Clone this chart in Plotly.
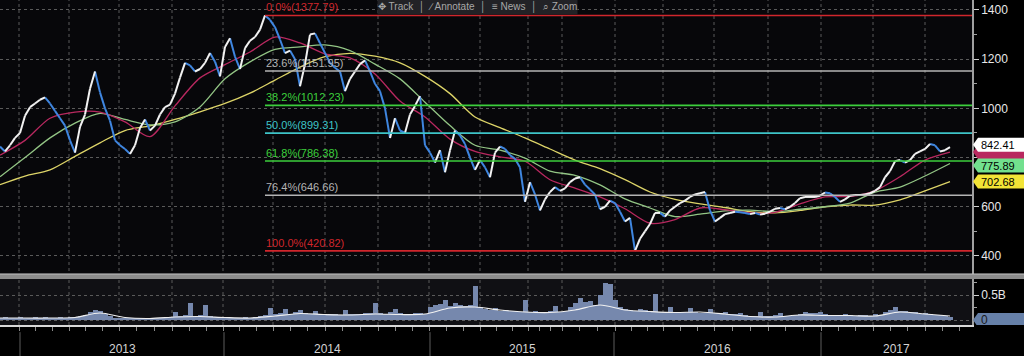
import plotly.graph_objects as go

# ---------------- data ----------------
# closing price, one value per bar (bars are evenly spaced trading periods)
price = [845, 825, 850, 880, 900, 970, 1005, 1020, 1035, 1045,
         1020, 990, 960, 930, 870, 820, 925, 975, 1080, 1150,
         1065, 1000, 950, 870, 850, 835, 815, 850, 920, 955,
         910, 930, 975, 1005, 1015, 1060, 1125, 1185, 1175, 1150,
         1160, 1185, 1225, 1190, 1130, 1250, 1285, 1210, 1160, 1245,
         1275, 1290, 1320, 1377.79, 1360, 1330, 1280, 1225, 1235, 1200,
         1090, 1180, 1300, 1305, 1265, 1225, 1185, 1165, 1150, 1070,
         1120, 1150, 1180, 1195, 1150, 1100, 1070, 1000, 880, 960,
         910, 900, 975, 1010, 1050, 850, 820, 780, 830, 740,
         830, 910, 890, 855, 800, 750, 790, 760, 720, 820,
         845, 835, 810, 795, 760, 620, 700, 650, 585, 630,
         660, 680, 665, 675, 700, 715, 720, 690, 670, 650,
         590, 600, 625, 615, 580, 540, 555, 420.82, 470, 500,
         530, 575, 575, 560, 585, 600, 615, 625, 640, 650,
         655, 660, 585, 540, 555, 570, 575, 580, 578, 575,
         570, 575, 568, 572, 580, 592, 595, 590, 600, 615,
         635, 640, 640, 640, 645, 658, 655, 640, 620, 630,
         645, 648, 648, 650, 655, 665, 680, 720, 745, 785,
         790, 780, 790, 815, 825, 835, 855, 850, 825, 830,
         842.41]

# moving averages, one value every MA_STEP bars
MA_STEP = 5
ma_short = [810, 870, 960, 985, 985, 945, 885, 1010, 1124, 1178,
            1229, 1290, 1266, 1222, 1205, 1140, 1030, 965, 875, 825,
            803, 785, 710, 676, 640, 592, 533, 548, 595, 588,
            575, 577, 612, 640, 642, 665, 722, 790, 822.50]
ma_mid = [722, 800, 880, 940, 980, 955, 933, 945, 1006, 1120,
          1189, 1240, 1250, 1258, 1235, 1180, 1120, 1025, 930, 850,
          830, 798, 745, 728, 689, 632, 595, 560, 570, 583,
          586, 580, 590, 600, 615, 660, 680, 725, 775.89]
ma_long = [690, 725, 750, 805, 860, 910, 929, 955, 986, 1020,
           1062, 1115, 1168, 1210, 1224, 1212, 1185, 1130, 1060, 965,
           922, 880, 835, 790, 755, 710, 660, 630, 612, 597,
           580, 575, 585, 600, 607, 607, 628, 665, 702.68]

# volume in billions, one value per bar
volume = [0.04, 0.05, 0.04, 0.04, 0.05, 0.04, 0.04, 0.05, 0.04, 0.05, 0.04, 0.04, 0.05, 0.04, 0.05, 0.06, 0.07,
          0.10, 0.15, 0.20, 0.18, 0.12, 0.08,
          0.04, 0.03, 0.03, 0.04, 0.03, 0.03, 0.04, 0.03, 0.04, 0.03, 0.04,
          0.06, 0.15, 0.08, 0.10, 0.33, 0.08, 0.09, 0.30, 0.08, 0.06,
          0.04, 0.04, 0.03, 0.04, 0.04, 0.05, 0.04, 0.05,
          0.08, 0.10, 0.23, 0.12, 0.14, 0.22, 0.12, 0.15, 0.20, 0.13, 0.12, 0.18, 0.12, 0.10, 0.12, 0.11, 0.10, 0.20, 0.12, 0.11, 0.12,
          0.13, 0.14, 0.33, 0.13, 0.12, 0.15, 0.22, 0.13, 0.12, 0.11, 0.13, 0.14, 0.12,
          0.25, 0.30, 0.32, 0.40, 0.28, 0.33, 0.30, 0.27,
          0.30, 0.68, 0.25, 0.22, 0.20, 0.24, 0.18, 0.20, 0.17, 0.18, 0.16,
          0.40, 0.16, 0.18, 0.15, 0.16, 0.17, 0.28, 0.15, 0.17,
          0.25, 0.33, 0.43, 0.35, 0.38, 0.30,
          0.50, 0.75, 0.72, 0.40,
          0.25, 0.22, 0.20, 0.18, 0.22, 0.20, 0.18, 0.52,
          0.16, 0.15, 0.25, 0.14, 0.15, 0.16, 0.24, 0.15, 0.14, 0.13, 0.22, 0.14, 0.13, 0.15, 0.12, 0.11, 0.13, 0.10,
          0.08, 0.07, 0.15, 0.08, 0.07, 0.09, 0.14, 0.08, 0.07, 0.09,
          0.12, 0.15, 0.14, 0.13, 0.16, 0.12,
          0.09, 0.08, 0.10, 0.12, 0.09, 0.08, 0.10, 0.09, 0.08, 0.11, 0.10,
          0.15, 0.20, 0.25, 0.18, 0.17, 0.15, 0.16,
          0.12, 0.14, 0.11, 0.10, 0.09, 0.07, 0.05]
vol_ma = [0.04, 0.04, 0.04, 0.05, 0.14, 0.05, 0.03, 0.06, 0.07, 0.05,
          0.04, 0.08, 0.13, 0.11, 0.10, 0.12, 0.11, 0.12, 0.24, 0.26,
          0.20, 0.16, 0.15, 0.20, 0.30, 0.20, 0.17, 0.15, 0.16, 0.12,
          0.07, 0.06, 0.10, 0.09, 0.09, 0.08, 0.16, 0.12, 0.08]

year_labels = ["2013", "2014", "2015", "2016", "2017"]
year_starts = [4.0, 44.8, 86.0, 122.8, 164.2]          # bar index where each year begins
axis_end = 194.4                                       # last visible bar position
quarter_starts = [3.8, 13.8, 23.8, 34.4, 44.6, 54.6, 65.0, 75.6, 85.8, 96.0,
                  105.6, 112.4, 123.0, 132.6, 142.8, 153.6, 164.2, 174.6, 185.0]

fib_pct = ["0.0%", "23.6%", "38.2%", "50.0%", "61.8%", "76.4%", "100.0%"]
fib_val = [1377.79, 1151.95, 1012.23, 899.31, 786.38, 646.66, 420.82]
fib_col = ["#d0262c", "#b4b4b4", "#3ccf3c", "#3ec4c8", "#3ccf3c", "#b4b4b4", "#d0262c"]
high_bar = 53

price_ticks = [400, 600, 800, 1000, 1200, 1400]
price_ticktext = ["400", "600", "", "1000", "1200", "1400"]   # 800 is hidden under the value tags
price_minor = [500, 700, 900, 1100, 1300]

# ---------------- styles ----------------
BG = "#07070a"
GRID = "#5a5a5a"
FONT = "Liberation Sans, Arial, sans-serif"
C_UP = "#f2f2f2"
C_DN = "#3f86e0"
C_PINK = "#b8285f"
C_GREEN = "#93c585"
C_YELLOW = "#ddd468"
C_VOL = "#7688ad"

Y0, Y1 = 326.8, 1440.6
PRICE_BOT = 0.157
VOL_TOP = 0.1415
PLOT_H = 325.0
UNITS_PER_PX = (Y1 - Y0) / (PLOT_H * (1 - PRICE_BOT))

fig = go.Figure()

# moving averages
ma_x = [i * MA_STEP for i in range(len(ma_short))]
for ser, col in [(ma_long, C_YELLOW), (ma_mid, C_GREEN), (ma_short, C_PINK)]:
    fig.add_trace(go.Scatter(x=ma_x, y=ser, mode="lines", line=dict(color=col, width=1.3, shape="spline", smoothing=0.8),
                             hoverinfo="skip", xaxis="x", yaxis="y"))

# price as up (white) / down (blue) segments
ux, uy, dx, dy = [], [], [], []
for i in range(1, len(price)):
    if price[i] >= price[i - 1]:
        ux += [i - 1, i, None]; uy += [price[i - 1], price[i], None]
    else:
        dx += [i - 1, i, None]; dy += [price[i - 1], price[i], None]
fig.add_trace(go.Scatter(x=dx, y=dy, mode="lines", line=dict(color=C_DN, width=2.0), xaxis="x", yaxis="y"))
fig.add_trace(go.Scatter(x=ux, y=uy, mode="lines", line=dict(color=C_UP, width=2.0), xaxis="x", yaxis="y"))

# volume
fig.add_trace(go.Bar(x=list(range(len(volume))), y=volume, marker=dict(color=C_VOL, line=dict(width=0)),
                     width=1.0, xaxis="x", yaxis="y2"))
fig.add_trace(go.Scatter(x=[i * MA_STEP for i in range(len(vol_ma))], y=vol_ma, mode="lines",
                         line=dict(color="#f0f0f0", width=1.2, shape="spline", smoothing=0.8), xaxis="x", yaxis="y2"))

shapes = []
annotations = []

# volume panel background
shapes.append(dict(type="rect", xref="paper", yref="paper", x0=0, x1=1, y0=0, y1=VOL_TOP,
                   fillcolor="#101014", line=dict(width=0), layer="below"))
# vertical dotted grid
for q in quarter_starts:
    shapes.append(dict(type="line", xref="x", yref="paper", x0=q, x1=q, y0=0, y1=1,
                       line=dict(color=GRID, width=1, dash="dot"), layer="below"))
# fib lines + labels
for p, v, c in zip(fib_pct, fib_val, fib_col):
    shapes.append(dict(type="line", xref="x", yref="y", x0=high_bar, x1=axis_end, y0=v, y1=v,
                       line=dict(color=c, width=1.6), layer="above"))
    annotations.append(dict(x=high_bar, y=v, xref="x", yref="y", xanchor="left", yanchor="bottom",
                            text=f"{p}({v:.2f})", showarrow=False, font=dict(color=c, size=11, family=FONT),
                            borderpad=0, yshift=1))
# panel separator band
shapes.append(dict(type="rect", xref="paper", yref="paper", x0=0, x1=1.06, y0=VOL_TOP, y1=PRICE_BOT,
                   fillcolor="#8c8c8c", line=dict(width=0), layer="above"))
shapes.append(dict(type="line", xref="paper", yref="paper", x0=0, x1=1.06, y0=PRICE_BOT, y1=PRICE_BOT,
                   line=dict(color="#c4c4c4", width=1), layer="above"))
# year separators and labels below the axis
for ys in year_starts:
    shapes.append(dict(type="line", xref="x", yref="paper", x0=ys, x1=ys, y0=-0.022, y1=-0.1,
                       line=dict(color="#5c5c5c", width=1)))
bounds = year_starts + [axis_end]
for k, lab in enumerate(year_labels):
    annotations.append(dict(x=(bounds[k] + bounds[k + 1]) / 2, y=-0.074, xref="x", yref="paper",
                            text=lab, showarrow=False, yanchor="middle",
                            font=dict(color="#d4d4d4", size=12, family=FONT)))

# right-hand value tags (pointed left edge); offset nudges a tag up (+) / down (-) in pixels
PX = 1.0 / 972.0
def tag_shape(v, color, half_px=7.0):
    h = half_px * UNITS_PER_PX
    x0, xt, x1 = 1 + 1 * PX, 1 + 6 * PX, 1 + 60 * PX
    path = f"M {x0} {v} L {xt} {v + h} L {x1} {v + h} L {x1} {v - h} L {xt} {v - h} Z"
    return dict(type="path", xref="paper", yref="y", path=path, fillcolor=color, line=dict(width=0), layer="above")

shapes.append(tag_shape(ma_short[-1], C_PINK))   # pink tag sits behind the price tag, its text is hidden
tags = [(ma_long[-1], "#f2e436", 0), (ma_mid[-1], "#72e08e", -2.0), (price[-1], "#ffffff", 2.5)]
for v, bg, off in tags:
    vc = v + off * UNITS_PER_PX
    shapes.append(tag_shape(vc, bg))
    annotations.append(dict(x=1, y=vc, xref="paper", yref="y", xanchor="left", yanchor="middle", xshift=8,
                            text=f"{v:.2f}", showarrow=False, borderpad=0,
                            font=dict(color="#000000", size=11, family=FONT)))
# volume "0" tag
h2 = 7.0 * (0.82 + 0.1) / (PLOT_H * VOL_TOP)
shapes.append(dict(type="path", xref="paper", yref="y2",
                   path=f"M {1 + 1 * PX} 0 L {1 + 6 * PX} {h2} L {1 + 60 * PX} {h2} L {1 + 60 * PX} {-h2} L {1 + 6 * PX} {-h2} Z",
                   fillcolor="#6680a8", line=dict(width=0), layer="above"))
annotations.append(dict(x=1, y=0, xref="paper", yref="y2", xanchor="left", yanchor="middle", xshift=8,
                        text="0", showarrow=False, borderpad=0,
                        font=dict(color="#1a1a1a", size=12, family=FONT)))

# toolbar at the very top
annotations.append(dict(x=0.491, y=1, xref="paper", yref="paper", yanchor="top", yshift=1,
                        text="\u2725 Track  \u2502  \u2215 Annotate  \u2502  \u2261 News  \u2502  \u2315 Zoom",
                        showarrow=False, bgcolor="#222226", borderpad=0,
                        font=dict(color="#a8a8a8", size=10, family=FONT)))

# monthly tick positions (three per quarter)
month_ticks = []
for a, b in zip(quarter_starts[:-1], quarter_starts[1:]):
    month_ticks += [a, a + (b - a) / 3, a + 2 * (b - a) / 3]
last_gap = quarter_starts[-1] - quarter_starts[-2]
month_ticks += [quarter_starts[-1], quarter_starts[-1] + last_gap / 3, quarter_starts[-1] + 2 * last_gap / 3]

fig.update_layout(
    width=1024, height=356,
    margin=dict(l=0, r=52, t=0, b=31),
    paper_bgcolor="#000000", plot_bgcolor=BG,
    showlegend=False, bargap=0,
    font=dict(family=FONT, color="#e0e0e0"),
    xaxis=dict(domain=[0, 1], range=[0, axis_end], anchor="y2", showgrid=False, zeroline=False,
               showline=True, linecolor="#d8d8d8", linewidth=1.5, ticks="outside", ticklen=4,
               tickcolor="#8a8a8a", tickvals=month_ticks, showticklabels=False),
    yaxis=dict(domain=[PRICE_BOT, 1], range=[Y0, Y1], side="right", anchor="x",
               tickvals=price_ticks, ticktext=price_ticktext, ticks="outside", ticklen=5, tickcolor="#cfcfcf",
               tickfont=dict(size=12, color="#e8e8e8"), showline=True, linecolor="#a0a0a0", linewidth=1.5,
               showgrid=True, gridcolor=GRID, griddash="dot", gridwidth=1, zeroline=False,
               minor=dict(tickmode="array", tickvals=price_minor, ticks="outside", ticklen=3,
                          tickcolor="#a0a0a0", showgrid=False)),
    yaxis2=dict(domain=[0, VOL_TOP], range=[-0.1, 0.82], side="right", anchor="x",
                tickvals=[0, 0.5], ticktext=["", "0.5B"], ticks="outside", ticklen=5, tickcolor="#cfcfcf",
                tickfont=dict(size=12, color="#e8e8e8"), showline=True, linecolor="#a0a0a0", linewidth=1.5,
                showgrid=True, gridcolor=GRID, griddash="dot", zeroline=False,
                minor=dict(tickmode="array", tickvals=[0.25, 0.75], ticks="outside", ticklen=3,
                           tickcolor="#a0a0a0", showgrid=False)),
    shapes=shapes, annotations=annotations,
)

fig.write_html("out.html", config={"displayModeBar": False},
               post_script="document.body.style.margin='0';document.body.style.background='#000';")
